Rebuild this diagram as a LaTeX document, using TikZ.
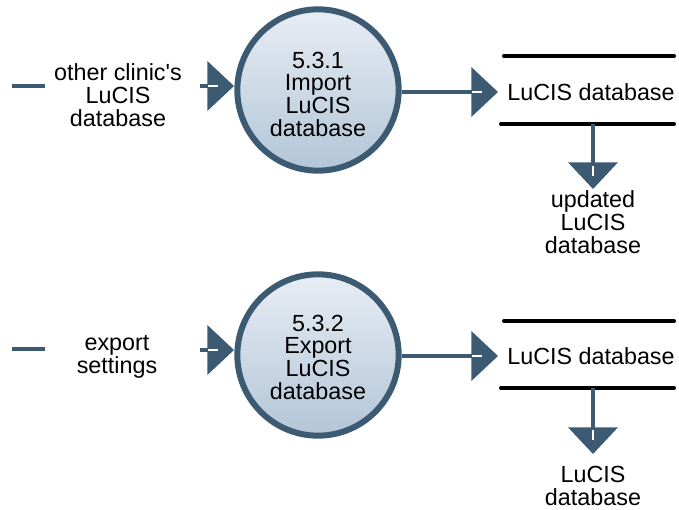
\documentclass[tikz,border=0pt]{standalone}
\usepackage{fontspec}
\setmainfont{Liberation Sans}
\usetikzlibrary{arrows.meta}
\definecolor{dfdblue}{RGB}{61,90,115}
\definecolor{procTop}{RGB}{232,237,244}
\definecolor{procBot}{RGB}{178,197,215}
\tikzset{
  proc/.style={circle, draw=dfdblue, line width=4.5pt, minimum size=121pt, inner sep=0pt,
    top color=procTop, bottom color=procBot},
  txt/.style={align=center, inner sep=0pt, font=\fontsize{17.5}{17}\selectfont},
  flow/.style={draw=dfdblue, line width=2.4pt,
    -{Triangle[width=37pt, length=20pt, fill=dfdblue]}},
  stub/.style={draw=dfdblue, line width=2.4pt},
  storeline/.style={draw=black, line width=3pt, line cap=round},
  gleam/.style={draw=white, line width=1.2pt}
}
\begin{document}
\begin{tikzpicture}[x=0.75pt,y=-0.75pt]
\useasboundingbox (0,0) rectangle (679,510);
% ---------- process 5.3.1 ----------
\node[proc] (p1) at (318,90) {};
\node[txt] (p1t) at (318,94) {5.3.1\\Import\\LuCIS\\database};
\node[txt] (in1) at (118,95) {other clinic\textquotesingle s\\LuCIS\\database};
\coordinate (a1) at (12,86);
\coordinate (b1) at (45,86);
\coordinate (c1) at (200,86);
\coordinate (t1) at (234,86);
\draw[stub] (a1) -- (b1);
\draw[flow] (c1) -- (t1);
\draw[gleam] (208,86) -- (218,86);
% store 1
\node[txt] (s1) at (591,92) {LuCIS database};
\coordinate (s1tl) at (504,56);
\coordinate (s1tr) at (674,56);
\coordinate (s1bl) at (501,124);
\coordinate (s1br) at (674,124);
\draw[storeline] (s1tl) -- (s1tr);
\draw[storeline] (s1bl) -- (s1br);
\coordinate (s1in) at (498,92);
\draw[flow] (p1.east |- s1in) -- (s1in);
\draw[gleam] (472,92) -- (482,92);
\coordinate (s1dn) at (593,124);
\coordinate (o1) at (593,189);
\draw[flow] (s1dn) -- (o1);
\draw[gleam] (593,166) -- (593,176);
\node[txt] (u1) at (593,222) {updated\\LuCIS\\database};
% ---------- process 5.3.2 ----------
\node[proc] (p2) at (318,355) {};
\node[txt] (p2t) at (318,357) {5.3.2\\Export\\LuCIS\\database};
\node[txt] (in2) at (117,357) {export\\settings};
\coordinate (a2) at (12,349);
\coordinate (b2) at (45,349);
\coordinate (c2) at (200,350);
\coordinate (t2) at (234,350);
\draw[stub] (a2) -- (b2);
\draw[flow] (c2) -- (t2);
\draw[gleam] (208,350) -- (218,350);
% store 2
\node[txt] (s2) at (591,356) {LuCIS database};
\coordinate (s2tl) at (504,321);
\coordinate (s2tr) at (674,321);
\coordinate (s2bl) at (501,388);
\coordinate (s2br) at (674,388);
\draw[storeline] (s2tl) -- (s2tr);
\draw[storeline] (s2bl) -- (s2br);
\coordinate (s2in) at (498,356);
\draw[flow] (p2.east |- s2in) -- (s2in);
\draw[gleam] (472,356) -- (482,356);
\coordinate (s2dn) at (593,388);
\coordinate (o2) at (593,454);
\draw[flow] (s2dn) -- (o2);
\draw[gleam] (593,430) -- (593,440);
\node[txt] (u2) at (593,486) {LuCIS\\database};
\end{tikzpicture}
\end{document}
